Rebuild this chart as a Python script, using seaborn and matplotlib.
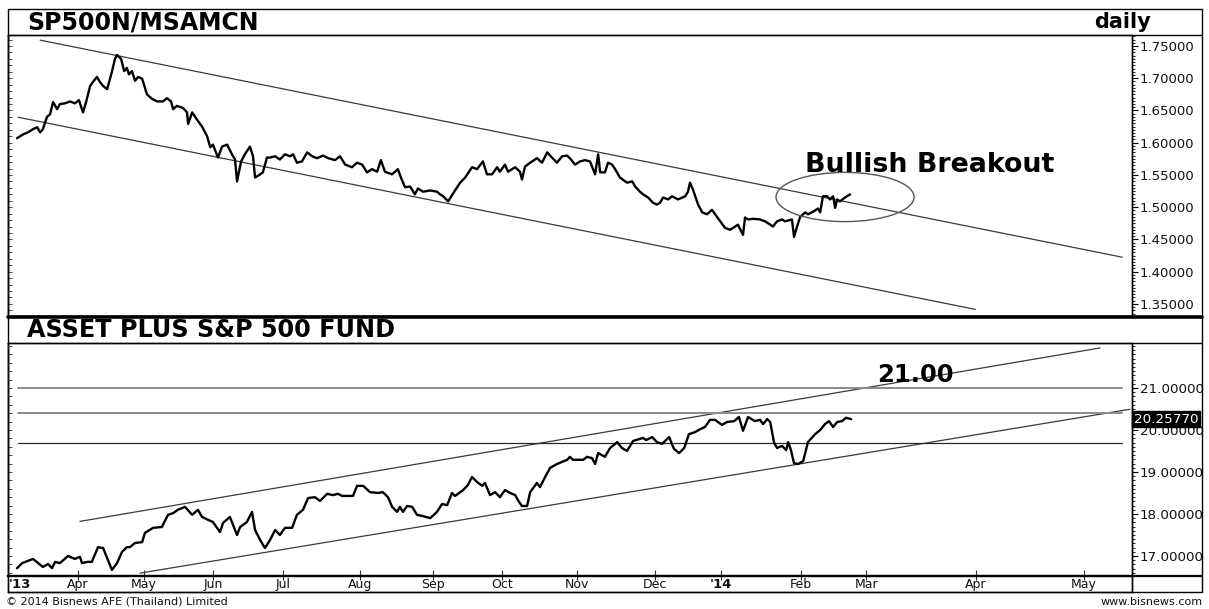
import numpy as np
import pandas as pd
import matplotlib
matplotlib.use("Agg")
import matplotlib.pyplot as plt
import seaborn as sns
from matplotlib.patches import Ellipse
from matplotlib.lines import Line2D
from matplotlib.ticker import MultipleLocator, FixedLocator, FormatStrFormatter

# ---------------- data (x = trading-session index from start of chart) ----------------
ratio_day = [0.6, 2.4, 3.8, 5.3, 6.5, 7.4, 8.2, 9.4, 10.3, 11.2, 12.4, 13.2, 14.7, 16.2, 17.6, 18.8, 20.0, 20.9,
             22.1, 22.9, 24.1, 25.0, 25.9, 27.1, 28.5, 29.4, 30.0, 31.2, 32.1, 32.9, 33.5, 34.4, 35.3, 36.2, 37.4,
             38.8, 40.3, 41.8, 43.5, 44.7, 45.9, 46.5, 47.6, 49.4, 50.6, 50.9, 52.1, 53.5, 55.0, 56.5, 57.4, 58.2,
             59.7, 60.9, 62.4, 63.8, 64.7, 65.3, 66.5, 67.6, 69.1, 70.0, 70.6, 72.1, 72.9, 74.1, 75.0, 76.5, 77.9,
             79.4, 80.9, 81.8, 82.9, 84.4, 85.9, 87.4, 88.8, 90.6, 92.1, 94.1, 95.6, 97.1, 99.1, 100.6, 102.1,
             103.5, 105.0, 106.5, 107.6, 108.8, 110.9, 112.6, 113.5, 114.7, 116.2, 117.6, 118.5, 120.0, 122.1,
             124.1, 125.0, 125.9, 127.4, 128.8, 130.9, 132.4, 134.4, 135.9, 137.6, 138.8, 140.3, 141.8, 142.6,
             144.1, 145.0, 147.1, 148.5, 149.1, 150.0, 151.5, 153.5, 155.0, 156.5, 157.9, 159.4, 160.9, 162.4,
             163.5, 164.7, 166.2, 167.6, 169.1, 170.6, 171.5, 172.1, 173.5, 174.4, 175.6, 176.5, 177.9, 180.0,
             181.5, 182.4, 183.8, 184.7, 186.2, 187.6, 188.8, 189.7, 190.6, 192.1, 193.2, 195.0, 197.1, 197.9,
             198.5, 199.4, 200.9, 202.1, 203.5, 205.0, 205.9, 207.4, 208.8, 210.3, 211.8, 212.6, 214.1, 214.7,
             215.6, 217.1, 219.1, 220.6, 222.1, 222.9, 224.1, 225.6, 226.5, 228.5, 229.1, 230.0, 230.9, 232.4,
             233.2, 234.7, 236.2, 236.8, 237.6, 238.8, 239.7, 240.6, 241.2, 241.8, 242.6, 244.1, 245.6]
ratio_val = [1.607, 1.613, 1.616, 1.621, 1.624, 1.616, 1.621, 1.640, 1.644, 1.663, 1.652, 1.660, 1.661, 1.664,
             1.661, 1.666, 1.647, 1.663, 1.688, 1.694, 1.702, 1.694, 1.688, 1.683, 1.710, 1.730, 1.736, 1.730,
             1.711, 1.716, 1.706, 1.711, 1.696, 1.702, 1.699, 1.675, 1.668, 1.664, 1.664, 1.669, 1.664, 1.652,
             1.657, 1.654, 1.647, 1.629, 1.647, 1.636, 1.625, 1.610, 1.593, 1.597, 1.577, 1.594, 1.597, 1.582,
             1.574, 1.540, 1.571, 1.582, 1.594, 1.579, 1.546, 1.551, 1.554, 1.577, 1.577, 1.579, 1.574, 1.582,
             1.579, 1.582, 1.569, 1.571, 1.585, 1.579, 1.576, 1.580, 1.576, 1.573, 1.579, 1.566, 1.562, 1.569,
             1.566, 1.554, 1.559, 1.555, 1.573, 1.555, 1.551, 1.559, 1.546, 1.531, 1.532, 1.520, 1.529, 1.524,
             1.526, 1.524, 1.520, 1.517, 1.509, 1.521, 1.538, 1.546, 1.562, 1.559, 1.571, 1.551, 1.551, 1.562,
             1.555, 1.566, 1.555, 1.562, 1.555, 1.543, 1.563, 1.569, 1.576, 1.569, 1.585, 1.577, 1.569, 1.579,
             1.580, 1.574, 1.566, 1.571, 1.573, 1.571, 1.551, 1.582, 1.554, 1.554, 1.569, 1.566, 1.559, 1.546,
             1.538, 1.540, 1.532, 1.524, 1.520, 1.515, 1.507, 1.504, 1.507, 1.515, 1.512, 1.517, 1.512, 1.517,
             1.524, 1.538, 1.527, 1.504, 1.492, 1.489, 1.496, 1.489, 1.478, 1.468, 1.465, 1.470, 1.473, 1.457,
             1.484, 1.481, 1.482, 1.481, 1.478, 1.473, 1.470, 1.478, 1.481, 1.478, 1.481, 1.454, 1.470, 1.485,
             1.492, 1.489, 1.493, 1.498, 1.492, 1.517, 1.517, 1.512, 1.517, 1.499, 1.512, 1.509, 1.515, 1.520]

fund_day = [0.6, 2.1, 5.3, 8.2, 9.7, 10.9, 11.8, 13.2, 15.6, 17.6, 19.1, 19.7, 21.2, 22.6, 24.4, 25.9, 27.1, 28.5,
            30.0, 31.5, 32.9, 33.8, 35.3, 37.4, 38.2, 40.6, 43.2, 43.8, 45.0, 46.5, 47.9, 50.0, 52.1, 53.8, 55.0,
            56.8, 58.2, 60.3, 61.2, 63.2, 65.3, 66.2, 68.2, 69.7, 70.6, 72.1, 73.5, 75.0, 76.5, 77.9, 79.4, 81.5,
            82.9, 84.7, 86.2, 88.2, 89.7, 91.8, 93.5, 95.0, 96.2, 99.4, 100.6, 102.4, 104.4, 106.8, 108.2, 109.7,
            110.9, 112.4, 113.2, 114.1, 115.3, 116.8, 118.2, 120.0, 122.1, 124.1, 125.6, 127.1, 128.5, 129.4,
            131.8, 133.2, 134.4, 135.9, 137.4, 138.2, 139.7, 141.2, 142.6, 144.1, 145.6, 147.1, 147.9, 149.1,
            150.6, 151.5, 153.5, 154.4, 155.9, 157.4, 159.4, 160.9, 162.4, 163.2, 164.1, 167.1, 168.2, 169.7,
            170.6, 171.5, 173.5, 175.0, 177.1, 178.5, 180.0, 181.8, 184.7, 185.6, 187.4, 188.8, 190.3, 192.4,
            193.8, 195.3, 196.8, 198.2, 200.0, 201.5, 202.9, 204.4, 205.9, 207.9, 209.4, 211.5, 212.9, 214.1,
            215.6, 217.6, 219.1, 220.0, 221.2, 222.1, 223.2, 224.1, 225.6, 226.8, 227.4, 228.2, 229.1, 230.3,
            231.8, 233.2, 235.3, 236.8, 238.2, 239.4, 240.6, 241.8, 243.2, 244.4, 245.9]
fund_val = [16.71, 16.83, 16.93, 16.74, 16.81, 16.71, 16.86, 16.83, 17.00, 16.93, 16.98, 16.83, 16.86, 16.86,
            17.21, 17.19, 16.95, 16.67, 16.83, 17.10, 17.21, 17.21, 17.31, 17.33, 17.55, 17.67, 17.69, 17.79,
            17.98, 18.02, 18.10, 18.17, 17.98, 18.10, 17.93, 17.86, 17.81, 17.57, 17.79, 17.93, 17.50, 17.69,
            17.81, 18.05, 17.62, 17.38, 17.19, 17.38, 17.62, 17.50, 17.67, 17.67, 17.98, 18.10, 18.38, 18.40,
            18.31, 18.48, 18.45, 18.48, 18.43, 18.43, 18.67, 18.67, 18.52, 18.50, 18.52, 18.40, 18.17, 18.05,
            18.17, 18.05, 18.19, 18.17, 17.98, 17.95, 17.90, 18.05, 18.24, 18.21, 18.50, 18.43, 18.57, 18.69,
            18.88, 18.76, 18.67, 18.74, 18.45, 18.52, 18.40, 18.57, 18.50, 18.45, 18.33, 18.19, 18.19, 18.52,
            18.74, 18.64, 18.88, 19.10, 19.19, 19.24, 19.29, 19.36, 19.29, 19.29, 19.36, 19.33, 19.19, 19.45,
            19.36, 19.57, 19.71, 19.57, 19.50, 19.74, 19.81, 19.76, 19.83, 19.71, 19.67, 19.83, 19.55, 19.45,
            19.57, 19.90, 19.95, 20.02, 20.07, 20.24, 20.24, 20.12, 20.19, 20.21, 20.31, 19.98, 20.31, 20.21,
            20.24, 20.14, 20.26, 20.19, 19.71, 19.57, 19.62, 19.52, 19.71, 19.52, 19.21, 19.19, 19.26, 19.71,
            19.90, 20.00, 20.14, 20.21, 20.07, 20.19, 20.21, 20.29, 20.2577]
fund_last = 20.2577

# trend channels: (start_day, end_day), (start_value, end_value)
ratio_upper = ([7.4, 325.6], [1.759, 1.4225])
ratio_lower = ([0.9, 282.4], [1.6395, 1.3416])
fund_upper = ([19.1, 319.1], [17.824, 21.952])
fund_lower = ([36.8, 327.9], [16.593, 20.493])
fund_levels = [21.00, 20.40, 19.69]
level_span = [0.9, 325.6]

month_pos = [1.5, 18.5, 37.9, 58.2, 78.8, 101.5, 122.9, 143.2, 165.3, 188.2, 207.6, 231.2, 250.3, 282.6, 314.4]
month_labels = ["'13", "Apr", "May", "Jun", "Jul", "Aug", "Sep", "Oct", "Nov", "Dec", "'14", "Feb", "Mar", "Apr", "May"]

ratio_ticks = [1.35, 1.40, 1.45, 1.50, 1.55, 1.60, 1.65, 1.70, 1.75]
fund_ticks = [17, 18, 19, 20, 21]

# ---------------- figure ----------------
sns.set_theme(style="white")
plt.rcParams['font.family'] = ['DejaVu Sans']
plt.rcParams['text.color'] = 'black'

W, H = 1209, 609
fig = plt.figure(figsize=(W / 100, H / 100), dpi=100)
fig.patch.set_facecolor("white")


def fx(px):
    return px / W


def fy(py):
    return 1 - py / H


XL, XR = 8, 1132
xlim = (-2.06, 328.5)

ax1 = fig.add_axes([fx(XL), fy(316), fx(XR) - fx(XL), fy(35) - fy(316)])
ax2 = fig.add_axes([fx(XL), fy(576), fx(XR) - fx(XL), fy(343) - fy(576)])
axs = fig.add_axes([fx(XL), fy(592), fx(XR) - fx(XL), fy(576) - fy(592)])

df_ratio = pd.DataFrame({"day": ratio_day, "value": ratio_val})
df_fund = pd.DataFrame({"day": fund_day, "value": fund_val})

sns.lineplot(data=df_ratio, x="day", y="value", ax=ax1, color="black", lw=1.7, estimator=None, sort=False)
sns.lineplot(data=df_fund, x="day", y="value", ax=ax2, color="black", lw=1.7, estimator=None, sort=False)

# channels
tl = dict(color="#3a3a3a", lw=0.9, zorder=1)
ax1.plot(*ratio_upper, **tl)
ax1.plot(*ratio_lower, **tl)
ax2.plot(*fund_upper, **tl)
ax2.plot(*fund_lower, **tl)
ax2.plot(level_span, [fund_levels[0]] * 2, color="#8a8a8a", lw=1.4, zorder=1)
ax2.plot(level_span, [fund_levels[1]] * 2, color="#8a8a8a", lw=1.4, zorder=1)
ax2.plot(level_span, [fund_levels[2]] * 2, color="#2a2a2a", lw=0.9, zorder=1)

for a in (ax1, ax2, axs):
    a.set_xlim(*xlim)
    a.set_xlabel("")
    a.set_ylabel("")
    a.set_facecolor("white")
    for s in a.spines.values():
        s.set_visible(True)
        s.set_color("black")
        s.set_linewidth(1.0)

ax1.set_ylim(1.3313, 1.767)
ax2.set_ylim(16.524, 22.07)

# right-hand value scales
for a, minor, ticks in ((ax1, 0.005, ratio_ticks), (ax2, 0.1, fund_ticks)):
    a.yaxis.tick_right()
    a.yaxis.set_major_locator(FixedLocator(ticks))
    a.yaxis.set_minor_locator(MultipleLocator(minor))
    a.yaxis.set_major_formatter(FormatStrFormatter("%.5f"))
    a.tick_params(axis="y", which="major", direction="out", length=4, width=0.8, pad=1.5,
                  labelsize=9.5 if a is ax1 else 9.7, labelcolor="#111111", color="black")
    a.tick_params(axis="y", which="minor", direction="out", length=2, width=0.6, color="black")
    a.tick_params(axis="y", left=False, which="both")

# left inner ticks
for a, step in ((ax1, 0.01), (ax2, 0.2)):
    sec = a.secondary_yaxis("left")
    sec.yaxis.set_major_locator(MultipleLocator(step))
    sec.tick_params(direction="in", length=3, width=0.6, labelleft=False, color="#333333")
    sec.spines["left"].set_linewidth(1.0)

ax1.tick_params(axis="x", bottom=False, labelbottom=False)
ax2.set_xticks(month_pos[1:])
ax2.tick_params(axis="x", bottom=True, direction="in", length=4, width=0.8, labelbottom=False, color="#333333")

axs.set_yticks([])
axs.set_ylim(0, 1)
axs.set_xticks(month_pos[1:])
axs.tick_params(axis="x", bottom=False, top=True, direction="in", length=3, width=0.8,
                labelbottom=False, labeltop=False)
for p, lab in zip(month_pos, month_labels):
    bold = lab.startswith("'")
    axs.text(p, 0.45, lab, ha="center", va="center", fontsize=9 if not bold else 9.5,
             fontweight="bold" if bold else "normal", color="#111111")
axs.spines["top"].set_linewidth(1.6)

# last value marker
ax2.annotate(f"{fund_last:.5f}", xy=(1.0, fund_last), xycoords=("axes fraction", "data"),
             xytext=(1.2, 0), textcoords="offset points", ha="left", va="center",
             fontsize=9.7, color="white",
             bbox=dict(boxstyle="square,pad=0.12", fc="black", ec="black"))

# annotations
ax1.add_patch(Ellipse((244.1, 1.5158), 40.6, 0.0763, fill=False, ec="#555555", lw=1.0, zorder=3))
ax1.text(269.0, 1.566, "Bullish Breakout", ha="center", va="center", fontsize=19.4, fontweight="bold",
         color="black")
ax2.text(264.7, 21.31, "21.00", ha="center", va="center", fontsize=17.5, fontweight="bold", color="black",
         zorder=4)

# frame elements
def hline(y, x0=8, x1=1202, lw=1.0, color="black"):
    fig.add_artist(Line2D([fx(x0), fx(x1)], [fy(y), fy(y)], color=color, lw=lw, transform=fig.transFigure))


def vline(x, y0, y1, lw=1.0, color="black"):
    fig.add_artist(Line2D([fx(x), fx(x)], [fy(y0), fy(y1)], color=color, lw=lw, transform=fig.transFigure))


hline(8.5)
hline(35)
hline(316.5, lw=2.6)
hline(343)
hline(576, lw=1.6)
hline(592)
vline(8, 8.5, 592)
vline(1202, 8.5, 592)
vline(1132, 35, 316.5)
vline(1132, 343, 592)

fig.text(fx(27), fy(22), "SP500N/MSAMCN", fontsize=17, fontweight="bold", ha="left", va="center",
         color="black")
fig.text(fx(1151), fy(22), "daily", fontsize=15, fontweight="bold", ha="right", va="center", color="black")
fig.text(fx(27), fy(330), "ASSET PLUS S&P 500 FUND", fontsize=17.2, fontweight="bold", ha="left", va="center",
         color="black")
fig.text(fx(6), fy(602), "\u00a9 2014 Bisnews AFE (Thailand) Limited", fontsize=8, ha="left", va="center",
         color="#111111")
fig.text(fx(1203), fy(602), "www.bisnews.com", fontsize=8, ha="right", va="center", color="#111111")

fig.savefig("out.png", dpi=100, facecolor="white")
